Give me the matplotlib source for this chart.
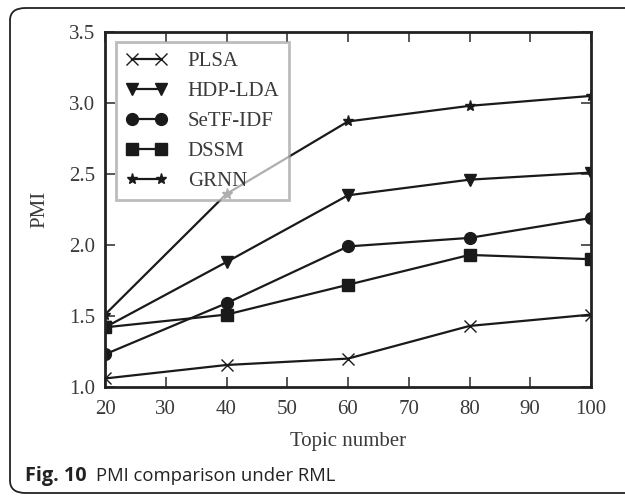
import matplotlib
matplotlib.use('Agg')
import matplotlib.pyplot as plt
from matplotlib.patches import FancyBboxPatch

# datos
topicos = [20, 40, 60, 80, 100]
plsa = [1.06, 1.155, 1.20, 1.43, 1.51]
hdp_lda = [1.42, 1.88, 2.35, 2.46, 2.51]
setf_idf = [1.23, 1.59, 1.99, 2.05, 2.19]
dssm = [1.42, 1.51, 1.72, 1.93, 1.90]
grnn = [1.51, 2.36, 2.87, 2.98, 3.05]

plt.rcParams['font.family'] = ['Liberation Serif', 'DejaVu Serif']

fig = plt.figure(figsize=(6.25, 4.96), dpi=100)
ax = fig.add_axes([105/625, 1 - 387/496, 486/625, 355/496])

negro = '#1a1a1a'
gris = '#3a3a3a'
ax.plot(topicos, plsa, color=negro, lw=1.6, marker='x', ms=9, mew=1.0, label='PLSA')
ax.plot(topicos, hdp_lda, color=negro, lw=1.6, marker='v', ms=9, label='HDP-LDA')
ax.plot(topicos, setf_idf, color=negro, lw=1.6, marker='o', ms=8.5, label='SeTF-IDF')
ax.plot(topicos, dssm, color=negro, lw=1.6, marker='s', ms=8.5, label='DSSM')
ax.plot(topicos, grnn, color=negro, lw=1.6, marker='*', ms=8, label='GRNN')

ax.set_xlim(20, 100)
ax.set_ylim(1.0, 3.5)
ax.set_xticks([20, 30, 40, 50, 60, 70, 80, 90, 100])
ax.set_yticks([1.0, 1.5, 2.0, 2.5, 3.0, 3.5])
ax.tick_params(direction='in', length=7, width=1.2, top=True, right=True,
               labelsize=15, colors=gris)
ax.tick_params(axis='x', pad=9)
ax.tick_params(axis='y', pad=7)
for s in ax.spines.values():
    s.set_linewidth(2)
    s.set_color('#222222')

ax.set_xlabel('Topic number', fontsize=15, color=gris, labelpad=10)
ax.set_ylabel('PMI', fontsize=15, color=gris, labelpad=14)

leg = ax.legend(loc='upper left', numpoints=2, fontsize=15, framealpha=0.65,
                fancybox=False, edgecolor='#999999', borderpad=0.45,
                labelspacing=0.5, handlelength=2.0, handletextpad=1.0,
                borderaxespad=0, bbox_to_anchor=(11/486, 1 - 10/355))
leg.get_frame().set_linewidth(2)
for t in leg.get_texts():
    t.set_color(gris)

# marco redondeado y pie de figura
marco = FancyBboxPatch((10/625, 3/496), 640/625, 485/496, transform=fig.transFigure,
                       boxstyle='round,pad=0,rounding_size=0.025',
                       fill=False, lw=1.3, edgecolor='#222222', clip_on=False)
fig.patches.append(marco)
fig.text(25/625, 1 - 476/496, 'Fig. 10', fontsize=14.3, fontweight='bold',
         family='Open Sans', color='#222222', va='center')
fig.text(96/625, 1 - 476/496, 'PMI comparison under RML', fontsize=13.3,
         family='Open Sans', color='#222222', va='center')

fig.savefig('out.png', dpi=100)
